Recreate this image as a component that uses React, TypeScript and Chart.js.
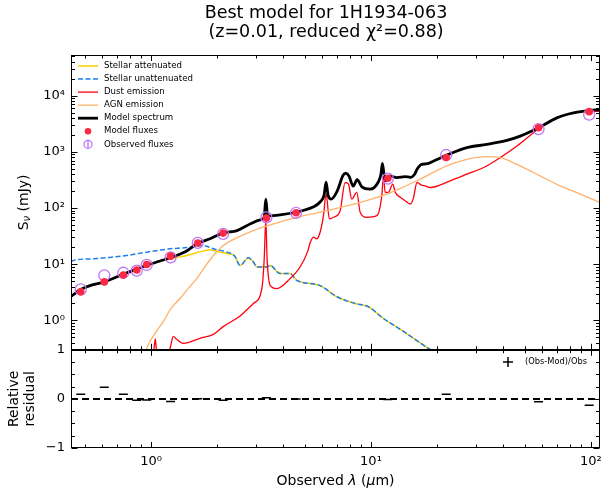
import React, { useEffect, useRef } from "react";
import { Chart, registerables } from "chart.js";

Chart.register(...registerables);

const FONT = '"DejaVu Sans", "Liberation Sans", sans-serif';
const W = 603;
const H = 493;

// ---- axis ranges & ticks ----
const wavelengthRange = [0.4325, 110];
const fluxRange = [0.32, 53000];
const residualRange = [-1, 1];
const xMajorTicks = [1, 10, 100];
const yMajorTicks = [1, 10, 100, 1000, 10000];
const residualTicks = [-1, 0, 1];
const residualMinorTicks = [-0.75, -0.5, -0.25, 0.25, 0.5, 0.75];

// ---- photometry (µm, mJy) ----
const filterWavelength = [0.479, 0.613, 0.748, 0.861, 0.956, 1.227, 1.631, 2.126, 3.346, 4.566, 11.93, 21.97, 57.8, 98.2];
const observedFlux = [3.55, 6.34, 7.05, 7.7, 9.7, 13.2, 24.0, 34.8, 68, 82.3, 335, 880, 2540, 4600];
const modelFlux = [3.22, 4.84, 6.4, 7.9, 9.9, 13.9, 23.9, 35.8, 66.6, 82.6, 339, 795, 2690, 5200];

// ---- model spectrum ----
const spectrumWavelength = [0.4325, 0.455, 0.475, 0.528, 0.618, 0.746, 0.846, 0.959, 1.1, 1.22, 1.43, 1.62, 1.854, 2.13, 2.46, 2.82, 3.13, 3.27, 3.325, 3.39, 3.86, 4.61, 5.45, 5.87, 6.12, 6.25, 6.38, 6.59, 7.02, 7.47, 7.7, 7.95, 8.3, 8.65, 9.12, 9.91, 10.78, 11.1, 11.27, 11.48, 11.72, 12.2, 13.1, 14.3, 15.1, 15.8, 16.2, 17.0, 17.8, 19.5, 22.0, 27.3, 33.6, 41.5, 47.7, 57.8, 70.0, 83.3, 99.0, 110];
const spectrumFlux = [2.66, 3.1, 3.5, 4.16, 4.9, 6.6, 8.0, 9.6, 11.4, 13.0, 16.6, 23.1, 28.3, 36.1, 39.7, 52, 61.3, 69.3, 144, 72.1, 75.2, 85, 104, 128, 170, 288, 170, 144, 200, 384, 416, 368, 245, 319, 235, 217, 288, 400, 626, 384, 304, 373, 349, 362, 352, 400, 490, 601, 610, 700, 867, 1187, 1358, 1600, 1905, 2680, 4030, 4940, 5430, 5650];

// ---- stellar attenuated ----
const stellarAttWavelength = [0.4325, 0.455, 0.475, 0.528, 0.618, 0.746, 0.846, 0.959, 1.01, 1.22, 1.458, 1.72, 1.854, 2.0, 2.21, 2.4, 2.54, 2.77, 2.92, 3.03, 3.36, 3.48, 3.86, 4.29, 4.6, 5.87, 7.0, 8.47, 9.73, 11.4, 14.1, 18.2, 20.6];
const stellarAttFlux = [2.66, 3.1, 3.5, 4.16, 4.9, 6.6, 8.0, 9.5, 10.2, 12.5, 14.3, 17.1, 18.1, 16.8, 15.5, 14.0, 9.5, 13.0, 10.9, 8.9, 8.9, 9.5, 6.8, 6.8, 5.17, 4.16, 2.63, 2.0, 1.75, 1.08, 0.63, 0.319, 0.24];

// ---- stellar unattenuated ----
const stellarUnattWavelength = [0.4325, 0.447, 0.546, 0.65, 0.775, 0.956, 1.22, 1.45, 1.614, 1.73, 1.92, 2.21, 2.4, 2.54, 2.77, 2.92, 3.03, 3.36, 3.48, 3.86, 4.29, 4.6, 5.87, 7.0, 8.47, 9.73, 11.4, 14.1, 18.2, 20.6];
const stellarUnattFlux = [11.1, 11.8, 12.5, 13.2, 14.3, 16.4, 18.8, 19.8, 21.0, 21.5, 18.8, 16.4, 14.0, 9.5, 13.0, 10.9, 8.9, 8.9, 9.5, 6.8, 6.8, 5.17, 4.16, 2.63, 2.0, 1.75, 1.08, 0.63, 0.319, 0.24];

// ---- dust emission ----
const dustWavelength = [0.9, 0.99, 1.03, 1.045, 1.055, 1.07, 1.15, 1.22, 1.263, 1.3, 1.403, 1.67, 1.92, 2.13, 2.54, 2.92, 3.19, 3.27, 3.325, 3.37, 3.48, 3.73, 4.29, 4.76, 5.14, 5.29, 5.47, 5.67, 5.87, 6.08, 6.25, 6.47, 6.75, 7.24, 7.63, 7.9, 8.18, 8.62, 8.93, 9.57, 10.63, 11.2, 11.4, 11.6, 12.0, 12.56, 12.9, 13.6, 14.3, 15.1, 15.55, 16.2, 17.0, 17.6, 18.6, 22.9, 27.3, 33.6, 38.7, 46.1, 54.8, 57.8, 70.0, 83.3, 99.3, 110];
const dustFlux = [0.19, 0.24, 0.3, 0.47, 0.33, 0.22, 0.2, 0.32, 0.52, 0.47, 0.39, 0.48, 0.565, 0.774, 1.2, 2.0, 3.68, 12.5, 61.3, 12.5, 4.21, 3.68, 5.54, 8.92, 16.4, 24.0, 30.3, 28.3, 37.1, 73, 177, 64, 68.4, 89.6, 285, 266, 144, 190, 84, 68.4, 73, 165, 373, 190, 190, 266, 190, 155, 135, 118, 144, 285, 255, 248, 232, 304, 400, 561, 789, 1267, 2188, 2570, 4030, 4940, 5270, 5270];

// ---- AGN emission ----
const agnWavelength = [0.9, 0.956, 1.043, 1.137, 1.233, 1.355, 1.473, 1.614, 1.76, 1.92, 2.13, 2.45, 2.92, 3.48, 4.6, 6.3, 8.93, 11.8, 13.6, 16.7, 22.1, 27.3, 33.6, 38.7, 47.7, 58.8, 72.5, 89.4, 110];
const agnFlux = [0.12, 0.319, 0.589, 0.948, 1.63, 2.45, 3.68, 5.54, 9.03, 14.3, 21.5, 29.4, 39.7, 50, 68.4, 89.6, 126, 177, 223, 326, 561, 737, 822, 789, 561, 373, 248, 177, 126];

const SUP: Record<string, string> = { "0": "⁰", "1": "¹", "2": "²", "3": "³", "4": "⁴", "5": "⁵", "-": "⁻" };
const pow10Label = (v: number) => {
  const e = Math.round(Math.log10(v));
  return "10" + String(e).split("").map((c) => SUP[c] || c).join("");
};

const pairs = (xs: number[], ys: number[]) => xs.map((x, i) => ({ x, y: ys[i] }));

const clipPlugin = {
  id: "panelClip",
  beforeDatasetDraw(chart: any, args: any) {
    const ys = args.meta.yScale;
    const ctx = chart.ctx;
    ctx.save();
    ctx.beginPath();
    ctx.rect(chart.chartArea.left, ys.top, chart.chartArea.right - chart.chartArea.left, ys.bottom - ys.top);
    ctx.clip();
  },
  afterDatasetDraw(chart: any) {
    chart.ctx.restore();
  },
};

function drawRich(ctx: CanvasRenderingContext2D, parts: { t: string; f: string; dy?: number }[], x: number, y: number) {
  let total = 0;
  for (const p of parts) {
    ctx.font = p.f;
    total += ctx.measureText(p.t).width;
  }
  let cx = x - total / 2;
  ctx.textAlign = "left";
  ctx.textBaseline = "middle";
  for (const p of parts) {
    ctx.font = p.f;
    ctx.fillText(p.t, cx, y + (p.dy || 0));
    cx += ctx.measureText(p.t).width;
  }
}

const decorPlugin = {
  id: "decor",
  afterDraw(chart: any) {
    const ctx: CanvasRenderingContext2D = chart.ctx;
    const xs = chart.scales.x;
    const ym = chart.scales.y;
    const yr = chart.scales.yr;
    const L = Math.round(chart.chartArea.left) + 0.5;
    const R = Math.round(chart.chartArea.right) - 0.5;
    ctx.save();
    ctx.strokeStyle = "#000";
    ctx.fillStyle = "#000";
    ctx.lineWidth = 1;
    const seg = (x1: number, y1: number, x2: number, y2: number) => {
      ctx.beginPath();
      ctx.moveTo(x1, y1);
      ctx.lineTo(x2, y2);
      ctx.stroke();
    };
    // frames
    for (const s of [ym, yr]) {
      const t = Math.round(s.top) + 0.5;
      const b = Math.round(s.bottom) - 0.5;
      ctx.strokeRect(L, t, R - L, b - t);
    }
    // x ticks (both panels, top & bottom, inward)
    const xMinor: number[] = [];
    for (let d = -1; d <= 2; d++)
      for (let k = 2; k <= 9; k++) {
        const v = k * Math.pow(10, d);
        if (v > wavelengthRange[0] && v < wavelengthRange[1]) xMinor.push(v);
      }
    for (const s of [ym, yr]) {
      const t = s.top, b = s.bottom;
      for (const v of xMajorTicks) {
        const px = Math.round(xs.getPixelForValue(v)) + 0.5;
        seg(px, b, px, b - 6);
        seg(px, t, px, t + 6);
      }
      for (const v of xMinor) {
        const px = Math.round(xs.getPixelForValue(v)) + 0.5;
        seg(px, b, px, b - 3.5);
        seg(px, t, px, t + 3.5);
      }
    }
    // y main ticks
    const yMinor: number[] = [];
    for (let d = -1; d <= 4; d++)
      for (let k = 2; k <= 9; k++) {
        const v = k * Math.pow(10, d);
        if (v > fluxRange[0] && v < fluxRange[1]) yMinor.push(v);
      }
    for (const v of yMajorTicks) {
      const py = Math.round(ym.getPixelForValue(v)) + 0.5;
      seg(L, py, L + 6, py);
      seg(R, py, R - 6, py);
    }
    for (const v of yMinor) {
      const py = Math.round(ym.getPixelForValue(v)) + 0.5;
      seg(L, py, L + 3.5, py);
      seg(R, py, R - 3.5, py);
    }
    // residual ticks
    for (const v of residualTicks) {
      const py = Math.round(yr.getPixelForValue(v)) + 0.5;
      seg(L, py, L + 6, py);
      seg(R, py, R - 6, py);
    }
    for (const v of residualMinorTicks) {
      const py = Math.round(yr.getPixelForValue(v)) + 0.5;
      seg(L, py, L + 3.5, py);
      seg(R, py, R - 3.5, py);
    }

    // title
    ctx.fillStyle = "#000";
    ctx.textAlign = "center";
    ctx.textBaseline = "middle";
    ctx.font = `17.5px ${FONT}`;
    ctx.fillText("Best model for 1H1934-063", 326, 13);
    ctx.fillText("(z=0.01, reduced χ²=0.88)", 326, 32);

    // axis titles
    const cx = (chart.chartArea.left + chart.chartArea.right) / 2;
    drawRich(
      ctx,
      [
        { t: "Observed ", f: `14px ${FONT}` },
        { t: "λ", f: `italic 14px ${FONT}` },
        { t: " (", f: `14px ${FONT}` },
        { t: "μ", f: `italic 14px ${FONT}` },
        { t: "m)", f: `14px ${FONT}` },
      ],
      cx,
      481
    );
    ctx.save();
    ctx.translate(24, (ym.top + ym.bottom) / 2);
    ctx.rotate(-Math.PI / 2);
    drawRich(
      ctx,
      [
        { t: "S", f: `14px ${FONT}` },
        { t: "ν", f: `italic 10px ${FONT}`, dy: 3 },
        { t: " (mJy)", f: `14px ${FONT}` },
      ],
      0,
      0
    );
    ctx.restore();
    ctx.save();
    ctx.translate(14, (yr.top + yr.bottom) / 2);
    ctx.rotate(-Math.PI / 2);
    ctx.font = `14px ${FONT}`;
    ctx.textAlign = "center";
    ctx.textBaseline = "middle";
    ctx.fillText("Relative", 0, 0);
    ctx.fillText("residual", 0, 16.5);
    ctx.restore();

    // main legend
    const rows = ["Stellar attenuated", "Stellar unattenuated", "Dust emission", "AGN emission", "Model spectrum", "Model fluxes", "Observed fluxes"];
    rows.forEach((lab, i) => {
      const ds: any = chart.data.datasets.find((d: any) => d.label === lab);
      const y = 66 + i * 13.05;
      ctx.save();
      if (lab === "Model fluxes") {
        ctx.fillStyle = ds.pointBackgroundColor;
        ctx.beginPath();
        ctx.arc(88, y, 3.3, 0, Math.PI * 2);
        ctx.fill();
      } else if (lab === "Observed fluxes") {
        ctx.strokeStyle = ds.pointBorderColor;
        ctx.lineWidth = 1.3;
        ctx.beginPath();
        ctx.arc(88, y, 4, 0, Math.PI * 2);
        ctx.stroke();
        seg(88, y - 4.5, 88, y + 4.5);
      } else {
        ctx.strokeStyle = ds.borderColor;
        ctx.lineWidth = ds.borderWidth;
        ctx.setLineDash(ds.borderDash || []);
        seg(78, y, 98, y);
      }
      ctx.restore();
      ctx.fillStyle = "#000";
      ctx.font = `8.6px ${FONT}`;
      ctx.textAlign = "left";
      ctx.textBaseline = "middle";
      ctx.fillText(lab, 104, y);
    });

    // residual legend
    const ly = 362;
    ctx.strokeStyle = "#000";
    ctx.lineWidth = 1.5;
    seg(503, ly, 513, ly);
    seg(508, ly - 5, 508, ly + 5);
    ctx.fillStyle = "#000";
    ctx.font = `8.3px ${FONT}`;
    ctx.textAlign = "left";
    ctx.textBaseline = "middle";
    ctx.fillText("(Obs-Mod)/Obs", 525, ly);
    ctx.restore();
  },
};

export default function App() {
  const ref = useRef<HTMLCanvasElement>(null);
  useEffect(() => {
    const canvas = ref.current!;
    const residuals = filterWavelength.map((w, i) => ({ x: w, y: (observedFlux[i] - modelFlux[i]) / observedFlux[i] }));
    const lineBase = { pointRadius: 0, fill: false, cubicInterpolationMode: "monotone", yAxisID: "y" };
    const chart = new Chart(canvas, {
      type: "line",
      data: {
        datasets: [
          { ...lineBase, label: "Stellar attenuated", data: pairs(stellarAttWavelength, stellarAttFlux), borderColor: "#f5d000", borderWidth: 1.5, order: 8 },
          { ...lineBase, label: "Stellar unattenuated", data: pairs(stellarUnattWavelength, stellarUnattFlux), borderColor: "#1a7ef2", borderWidth: 1.5, borderDash: [5, 2.5], order: 7 },
          { ...lineBase, label: "Dust emission", data: pairs(dustWavelength, dustFlux), borderColor: "#ff000d", borderWidth: 1.3, order: 6 },
          { ...lineBase, label: "AGN emission", data: pairs(agnWavelength, agnFlux), borderColor: "#ffb16d", borderWidth: 1.3, order: 5 },
          { ...lineBase, label: "Model spectrum", data: pairs(spectrumWavelength, spectrumFlux), borderColor: "#000000", borderWidth: 2.8, order: 4 },
          { label: "Observed fluxes", data: pairs(filterWavelength, observedFlux), showLine: false, pointRadius: 5.5, pointStyle: "circle", pointBorderColor: "#bf77f6", pointBackgroundColor: "rgba(0,0,0,0)", pointBorderWidth: 1.3, yAxisID: "y", order: 3 },
          { label: "Model fluxes", data: pairs(filterWavelength, modelFlux), showLine: false, pointRadius: 3.8, pointStyle: "circle", pointBorderWidth: 0, pointBorderColor: "#fb2943", pointBackgroundColor: "#fb2943", yAxisID: "y", order: 2 },
          { label: "zero", data: pairs(wavelengthRange, [0, 0]), borderColor: "#000", borderWidth: 2, borderDash: [7, 4], pointRadius: 0, yAxisID: "yr", order: 1 },
          { label: "(Obs-Mod)/Obs", data: residuals, showLine: false, pointStyle: "line", pointRadius: 4.5, pointBorderColor: "#000", pointBorderWidth: 1.5, yAxisID: "yr", order: 0 },
        ] as any,
      },
      options: {
        responsive: false,
        animation: false,
        devicePixelRatio: 1,
        events: [],
        layout: { autoPadding: false, padding: { top: 55, right: 3, left: 0, bottom: 0 } },
        plugins: { legend: { display: false }, title: { display: false }, tooltip: { enabled: false } },
        scales: {
          x: {
            type: "logarithmic",
            position: "bottom",
            min: wavelengthRange[0],
            max: wavelengthRange[1],
            grid: { display: false, drawTicks: false },
            border: { display: false },
            ticks: { color: "#000", font: { family: FONT, size: 13 }, padding: 6, maxRotation: 0, autoSkip: false, callback: (v: any) => pow10Label(Number(v)) },
            afterBuildTicks: (s: any) => { s.ticks = xMajorTicks.map((v) => ({ value: v })); },
            afterFit: (s: any) => { s.height = 45; s.paddingLeft = 0; s.paddingRight = 0; },
          },
          y: {
            type: "logarithmic",
            position: "left",
            stack: "panels",
            stackWeight: 3,
            weight: 2,
            min: fluxRange[0],
            max: fluxRange[1],
            grid: { display: false, drawTicks: false },
            border: { display: false },
            ticks: { color: "#000", font: { family: FONT, size: 13 }, padding: 6, autoSkip: false, callback: (v: any) => pow10Label(Number(v)) },
            afterBuildTicks: (s: any) => { s.ticks = yMajorTicks.map((v) => ({ value: v })); },
            afterFit: (s: any) => { s.width = 71; s.paddingTop = 0; s.paddingBottom = 0; },
          },
          yr: {
            type: "linear",
            position: "left",
            stack: "panels",
            stackWeight: 1,
            weight: 1,
            min: residualRange[0],
            max: residualRange[1],
            grid: { display: false, drawTicks: false },
            border: { display: false },
            ticks: { color: "#000", font: { family: FONT, size: 13 }, padding: 6, autoSkip: false, callback: (v: any) => (Number(v) < 0 ? "−" + Math.abs(Number(v)) : String(v)) },
            afterBuildTicks: (s: any) => { s.ticks = residualTicks.map((v) => ({ value: v })); },
            afterFit: (s: any) => { s.width = 71; s.paddingTop = 0; s.paddingBottom = 0; },
          },
        } as any,
      },
      plugins: [clipPlugin, decorPlugin],
    });
    return () => chart.destroy();
  }, []);
  return (
    <div style={{ position: "absolute", left: 0, top: 0, width: W, height: H, background: "#fff" }}>
      <canvas ref={ref} width={W} height={H} style={{ display: "block", width: W, height: H }} />
    </div>
  );
}
